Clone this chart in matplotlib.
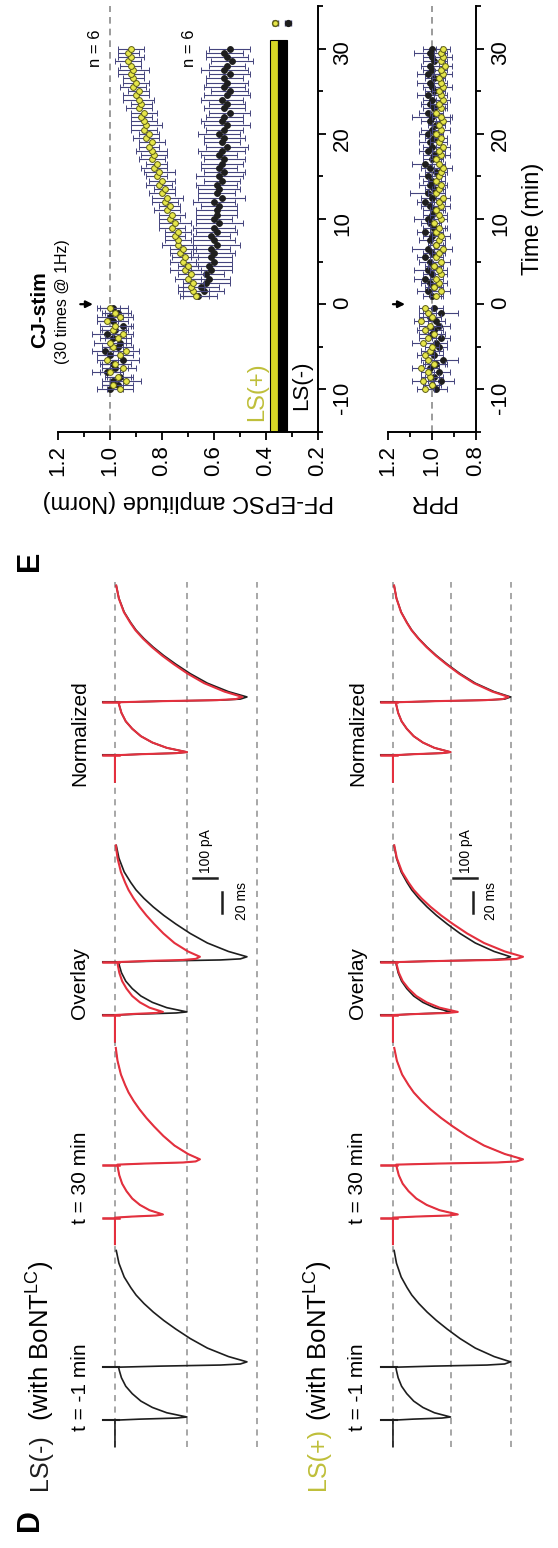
"""Rotated figure: EPSC traces (D) and PF-EPSC / PPR time course (E)."""

import numpy as np
import matplotlib
matplotlib.use("Agg")
import matplotlib.pyplot as plt
from matplotlib.ticker import MultipleLocator, FormatStrFormatter

plt.rcParams["font.family"] = ["Liberation Sans", "DejaVu Sans"]
plt.rcParams["mathtext.fontset"] = "custom"
plt.rcParams["mathtext.rm"] = "Liberation Sans"
plt.rcParams["axes.unicode_minus"] = False

W, H = 558, 1548

# ---------------- data: panel E (values in % of baseline) ----------------
time_base = np.arange(-10, 0, 0.5)        # 20 samples
time_post = np.arange(1, 30.01, 0.5)      # 59 samples

amp_plus_base = [96, 99, 94, 97, 100, 95, 98, 101, 96, 94,
                 99, 100, 97, 95, 99, 98, 101, 96, 98, 100]
amp_plus_post = [67, 68, 69, 68, 70, 69, 71, 70, 72, 71,
                 73, 72, 74, 74, 75, 74, 76, 75, 77, 76,
                 78, 77, 79, 78, 80, 79, 81, 80, 82, 81,
                 83, 82, 84, 83, 84, 85, 84, 86, 85, 87,
                 86, 87, 88, 87, 89, 88, 89, 90, 89, 91,
                 90, 91, 92, 91, 92, 93, 92, 93, 92]
amp_minus_base = [100, 97, 99, 96, 101, 98, 99, 95, 100, 102,
                  97, 96, 99, 101, 98, 95, 99, 100, 97, 99]
amp_minus_post = [66, 64, 65, 63, 62, 63, 61, 62, 60, 61,
                  60, 61, 59, 60, 61, 59, 60, 58, 60, 59,
                  59, 58, 60, 57, 59, 58, 59, 57, 58, 56,
                  58, 57, 56, 58, 57, 55, 57, 56, 58, 56,
                  55, 57, 56, 54, 56, 55, 57, 55, 54, 56,
                  55, 56, 54, 56, 55, 53, 55, 56, 54]
amp_plus_err = [5, 4, 6, 5, 4, 5, 6, 4, 5, 5, 4, 6, 5, 4, 5, 6, 4, 5, 5, 4,
                5, 6, 5, 4, 5, 5, 6, 4, 5, 5, 4, 5, 6, 5, 4, 5, 5, 6, 4, 5,
                5, 4, 5, 6, 5, 4, 5, 5, 4, 6, 5, 4, 5, 5, 6, 4, 5, 5, 4, 5,
                6, 5, 4, 5, 5, 4, 6, 5, 4, 5, 5, 4, 5, 6, 4, 5, 5, 4, 5]
amp_minus_err = [5, 6, 4, 5, 6, 5, 4, 6, 5, 5, 6, 4, 5, 6, 5, 4, 6, 5, 5, 6,
                 7, 8, 7, 9, 8, 7, 8, 9, 7, 8, 8, 7, 9, 8, 7, 8, 8, 9, 7, 8,
                 8, 7, 8, 9, 7, 8, 8, 7, 9, 8, 7, 8, 8, 7, 9, 8, 7, 8, 8, 7,
                 9, 8, 7, 8, 8, 7, 8, 9, 7, 8, 8, 7, 8, 9, 7, 8, 8, 7, 8]

ppr_plus_base = [103, 100, 104, 101, 102, 105, 99, 102, 103, 101,
                 100, 104, 102, 99, 103, 101, 105, 100, 102, 103]
ppr_plus_post = [98, 96, 99, 97, 98, 96, 97, 99, 96, 98,
                 97, 95, 98, 97, 96, 98, 97, 99, 96, 97,
                 98, 96, 97, 95, 98, 97, 96, 98, 97, 96,
                 95, 97, 98, 96, 97, 95, 97, 96, 98, 96,
                 97, 95, 96, 98, 96, 97, 95, 96, 97, 95,
                 96, 97, 95, 96, 94, 96, 95, 96, 95]
ppr_minus_base = [98, 100, 96, 99, 97, 101, 98, 95, 99, 100,
                  97, 98, 96, 100, 99, 97, 98, 101, 96, 99]
ppr_minus_post = [100, 102, 99, 101, 103, 100, 102, 99, 101, 103,
                  100, 102, 98, 101, 100, 103, 99, 101, 102, 100,
                  99, 101, 103, 100, 102, 99, 101, 100, 102, 98,
                  101, 103, 100, 99, 102, 100, 101, 99, 102, 100,
                  98, 101, 100, 102, 99, 101, 100, 102, 99, 100,
                  101, 99, 102, 100, 101, 99, 100, 101, 100]
ppr_plus_err = [4, 3, 5, 4, 3, 4, 5, 3, 4, 4, 3, 5, 4, 3, 4, 5, 3, 4, 4, 3,
                3, 4, 3, 4, 3, 3, 4, 3, 4, 3, 3, 4, 3, 3, 4, 3, 4, 3, 3, 4,
                3, 4, 3, 3, 4, 3, 3, 4, 3, 3, 4, 3, 3, 4, 3, 3, 4, 3, 3, 4,
                3, 3, 4, 3, 3, 4, 3, 3, 3, 4, 3, 3, 4, 3, 3, 3, 4, 3, 3]
ppr_minus_err = [5, 4, 6, 4, 5, 4, 5, 7, 4, 5, 4, 5, 4, 6, 4, 5, 4, 5, 8, 4,
                 4, 5, 4, 4, 5, 4, 6, 4, 5, 4, 4, 7, 4, 5, 4, 4, 5, 4, 6, 4,
                 5, 4, 4, 5, 8, 4, 5, 4, 4, 5, 4, 6, 4, 5, 4, 4, 5, 4, 4, 5,
                 4, 4, 9, 4, 5, 4, 4, 5, 4, 4, 6, 4, 5, 4, 4, 5, 4, 7, 4]

# ---------------- data: panel D traces ----------------
# normalized EPSC waveform (ms after stimulus, fraction of peak)
pulse1_t = [-25, 0, 1, 2, 3, 7, 12, 18, 25, 32, 40, 47, 50]
pulse1_a = [0, 0, 0.35, 0.85, 1.0, 0.72, 0.52, 0.36, 0.24, 0.15, 0.09, 0.06, 0.05]
pulse2_t = [0, 1, 2, 3, 5, 10, 18, 27, 36, 44, 52, 60, 68, 75, 85, 98, 110]
pulse2_a = [0.03, 0.35, 0.80, 0.95, 1.0, 0.86, 0.70, 0.57, 0.46, 0.37,
            0.29, 0.22, 0.16, 0.12, 0.07, 0.03, 0.01]
isi_ms = 50
# peak amplitudes (pA) [1st, 2nd]
ls_minus_pre = [300, 550]
ls_minus_post = [200, 354]
ls_plus_pre = [240, 490]
ls_plus_post = [270, 542]
ls_minus_dash = [0, 300, 592]
ls_plus_dash = [0, 242, 492]
trace_onsets = [30, 221, 412, 657]   # ms position of each trace in its column
trace_titles = ["t = -1 min", "t = 30 min", "Overlay", "Normalized"]

YEL_FILL = "#e6e64a"
YEL_EDGE = "#5e5e16"
YEL_TEXT = "#bfbf3a"
ERR_COL = "#45457e"
RED = "#e4303e"
BLK = "#1e1e1e"


def px_rect(x0, y0, x1, y1):
    return [x0 / W, 1 - y1 / H, (x1 - x0) / W, (y1 - y0) / H]


def ftext(x, y, s, **kw):
    fig.text(x / W, 1 - y / H, s, **kw)


def style_time_axes(ax):
    for side in ("top", "left"):
        ax.spines[side].set_visible(False)
    for side in ("bottom", "right"):
        ax.spines[side].set_linewidth(1.4)
    ax.yaxis.tick_right()
    ax.set_ylim(-15, 35)
    ax.yaxis.set_major_locator(MultipleLocator(10))
    ax.yaxis.set_minor_locator(MultipleLocator(5))
    ax.xaxis.set_major_formatter(FormatStrFormatter("%.1f"))
    ax.tick_params(which="both", direction="out", width=1.3)
    ax.tick_params(which="major", length=6, labelsize=16)
    ax.tick_params(which="minor", length=3.5)
    ax.tick_params(axis="x", labelrotation=90)
    ax.tick_params(axis="y", labelrotation=90, pad=4)
    ax.patch.set_alpha(0)


def plot_series(ax, base, post, err, yellow):
    vals = np.r_[base, post] / 100
    t = np.r_[time_base, time_post]
    e = np.array(err) / 100
    if yellow:
        kw = dict(mfc=YEL_FILL, mec=YEL_EDGE, zorder=4)
    else:
        kw = dict(mfc=BLK, mec=BLK, zorder=3)
    ax.errorbar(vals, t, xerr=e, fmt="o", ms=4.2, mew=0.7, ecolor=ERR_COL,
                elinewidth=0.8, capsize=2.2, capthick=0.8, **kw)


fig = plt.figure(figsize=(W / 100, H / 100), dpi=100)

# ---------------- E: PF-EPSC amplitude ----------------
ax1 = fig.add_axes(px_rect(58, 6, 318, 432))
style_time_axes(ax1)
ax1.set_xlim(1.2, 0.2)
ax1.xaxis.set_major_locator(MultipleLocator(0.2))
ax1.xaxis.set_minor_locator(MultipleLocator(0.1))
ax1.axvline(1.0, color="#8a8a8a", ls=(0, (4, 3)), lw=1.2, zorder=1)
ax1.bar([0.3695, 0.3365], [46, 46], width=[0.031, 0.034], bottom=-15,
        color=["#d6d626", "black"], edgecolor="black", lw=0.8, zorder=2)
plot_series(ax1, amp_minus_base, amp_minus_post, amp_minus_err, False)
plot_series(ax1, amp_plus_base, amp_plus_post, amp_plus_err, True)
ax1.errorbar([0.315], [33], xerr=[0.012], fmt="o", ms=4.2, mfc=BLK, mec=BLK,
             ecolor=ERR_COL, elinewidth=0.8, capsize=2)
ax1.errorbar([0.365], [33], xerr=[0.01], fmt="o", ms=4.2, mfc=YEL_FILL,
             mec=YEL_EDGE, ecolor=ERR_COL, elinewidth=0.8, capsize=2)
ax1.annotate("", xy=(1.055, 0), xytext=(1.125, 0),
             arrowprops=dict(arrowstyle="-|>", color="black", lw=1.6,
                             mutation_scale=10), annotation_clip=False)
ax1.set_xlabel("PF-EPSC amplitude (Norm)", fontsize=17, rotation=180,
               labelpad=10)

# ---------------- E: PPR ----------------
ax2 = fig.add_axes(px_rect(388, 6, 476, 432))
style_time_axes(ax2)
ax2.set_xlim(1.2, 0.8)
ax2.xaxis.set_major_locator(MultipleLocator(0.2))
ax2.xaxis.set_minor_locator(MultipleLocator(0.1))
ax2.axvline(1.0, color="#8a8a8a", ls=(0, (4, 3)), lw=1.2, zorder=1)
plot_series(ax2, ppr_minus_base, ppr_minus_post, ppr_minus_err, False)
plot_series(ax2, ppr_plus_base, ppr_plus_post, ppr_plus_err, True)
ax2.annotate("", xy=(1.11, 0), xytext=(1.19, 0),
             arrowprops=dict(arrowstyle="-|>", color="black", lw=1.6,
                             mutation_scale=10), annotation_clip=False)
ax2.set_xlabel("PPR", fontsize=17, rotation=180, labelpad=10)
ax2.yaxis.set_label_position("right")
ax2.set_ylabel("Time (min)", fontsize=17, rotation=90, labelpad=8)

ftext(40, 310, "CJ-stim", fontsize=15, fontweight="bold", rotation=90,
      ha="center", va="center")
ftext(62, 302, "(30 times @ 1Hz)", fontsize=11.5, rotation=90,
      ha="center", va="center")
ftext(95, 48, "n = 6", fontsize=12, rotation=90, ha="center", va="center")
ftext(190, 48, "n = 6", fontsize=12, rotation=90, ha="center", va="center")
ftext(257, 392, "LS(+)", fontsize=17, rotation=90, color=YEL_TEXT,
      ha="center", va="center")
ftext(302, 385, "LS(-)", fontsize=16, rotation=90, ha="center", va="center")
ftext(30, 561, "E", fontsize=22, fontweight="bold", rotation=90,
      ha="center", va="center")


# ---------------- D: traces ----------------
def draw_trace(ax, onset, peaks, color, lw, z):
    t = np.r_[onset + np.array(pulse1_t), onset + isi_ms + np.array(pulse2_t)]
    a = np.r_[peaks[0] * np.array(pulse1_a), peaks[1] * np.array(pulse2_a)]
    ax.plot(a, t, color=color, lw=lw, zorder=z, solid_joinstyle="round")
    for s in (onset, onset + isi_ms):
        ax.plot([-50, 18], [s, s], color=color, lw=lw + 0.3, zorder=z)


def draw_column(x_off, pre, post, dash, bars, title, title_col):
    ax = fig.add_axes(px_rect(60 + x_off, 575, 270 + x_off, 1452))
    ax.set_xlim(-229, 646)
    ax.set_ylim(0, 827)
    ax.axis("off")
    ax.vlines(dash, 5, 820, colors="#8f8f8f", linestyles=(0, (4, 3.5)),
              lw=1.1, zorder=1)
    on = trace_onsets
    draw_trace(ax, on[0], pre, BLK, 1.2, 3)
    draw_trace(ax, on[1], post, BLK, 0.6, 3)
    draw_trace(ax, on[1], post, RED, 1.5, 4)
    draw_trace(ax, on[2], pre, BLK, 1.2, 3)
    draw_trace(ax, on[2], post, RED, 1.5, 4)
    scale = pre[0] / post[0]
    draw_trace(ax, on[3], pre, BLK, 1.2, 3)
    draw_trace(ax, on[3], [post[0] * scale, post[1] * scale], RED, 1.5, 4)
    # scale bars: 100 pA and 20 ms
    pa_x, ms_x, ms_txt = bars
    ax.plot([pa_x, pa_x + 100], [541, 541], color=BLK, lw=1.8)
    ax.plot([ms_x, ms_x], [508, 528], color=BLK, lw=1.8)
    ax.text(pa_x + 55, 546, "100 pA", fontsize=10, rotation=90,
            ha="center", va="bottom")
    ax.text(ms_txt, 520, "20 ms", fontsize=10, rotation=90,
            ha="center", va="center")
    for y, s in zip([1387, 1178, 983, 733], trace_titles):
        ftext(80 + x_off, y, s, fontsize=15, rotation=90,
              ha="center", va="center")
    ftext(40 + x_off, 1490, title, fontsize=18, rotation=90, color=title_col,
          ha="center", va="bottom")
    ftext(40 + x_off, 1421, "(with BoNT$^{\\mathrm{LC}}$)", fontsize=18.5,
          rotation=90, ha="center", va="bottom")


draw_column(0, ls_minus_pre, ls_minus_post, ls_minus_dash, (325, 446, 530),
            "LS(-)", BLK)
draw_column(278, ls_plus_pre, ls_plus_post, ls_plus_dash, (250, 335, 410),
            "LS(+)", YEL_TEXT)
ftext(30, 1520, "D", fontsize=22, fontweight="bold", rotation=90,
      ha="center", va="center")

fig.savefig("out.png", dpi=100)
